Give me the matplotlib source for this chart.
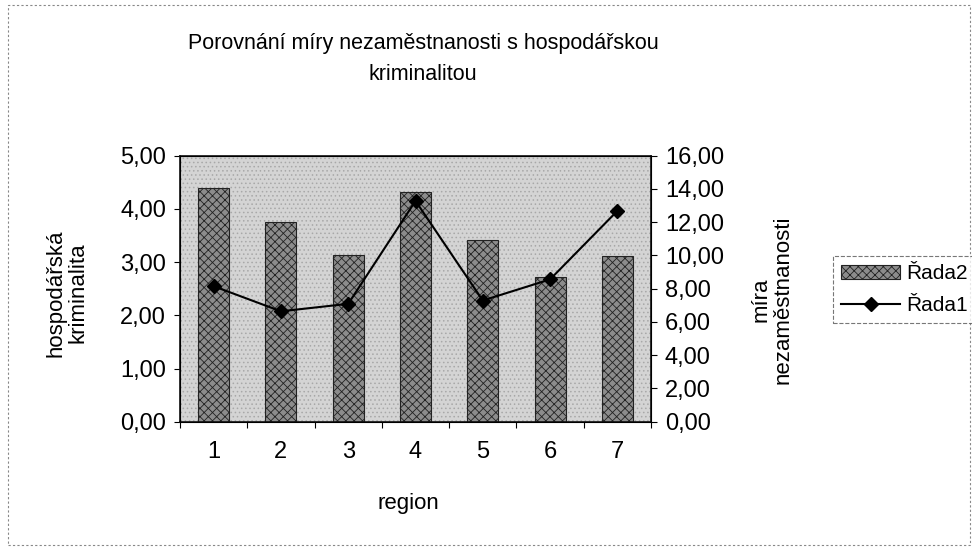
import matplotlib
matplotlib.use("Agg")
import matplotlib.pyplot as plt
from matplotlib.patches import Rectangle
import numpy as np

plt.rcParams['font.family'] = ['Liberation Sans', 'DejaVu Sans']
plt.rcParams['hatch.linewidth'] = 0.6

regions = ['1', '2', '3', '4', '5', '6', '7']
rada2 = [4.40, 3.75, 3.13, 4.32, 3.42, 2.72, 3.11]   # hospodářská kriminalita (left)
rada1 = [8.15, 6.64, 7.09, 13.28, 7.29, 8.56, 12.68]  # míra nezaměstnanosti (right)
left_ticks = [0, 1, 2, 3, 4, 5]
right_ticks = [0, 2, 4, 6, 8, 10, 12, 14, 16]

fig = plt.figure(figsize=(9.72, 5.51), dpi=100)
fig.patch.set_facecolor('white')
ax = fig.add_axes([180/972, 1-421.7/551, 471/972, 266/551])
x = np.arange(len(regions))
ax.set_facecolor('#d4d4d4')
ax.add_patch(Rectangle((0, 0), 1, 1, transform=ax.transAxes, facecolor='none',
                       edgecolor='#a8a8a8', hatch='....', linewidth=0, zorder=0))
bars = ax.bar(x, rada2, width=0.46, color='#8c8c8c', edgecolor='#222222',
              hatch='xxxx', linewidth=0.8, zorder=2, label='Řada2')
ax.set_xlim(-0.5, len(regions) - 0.5)
ax.set_ylim(0, 5)
ax.set_yticks(left_ticks)
ax.set_yticklabels([f"{v:.2f}".replace('.', ',') for v in left_ticks], fontsize=17)
ax.set_xticks(x)
ax.set_xticklabels(regions, fontsize=17)
ax.set_xticks(np.arange(-0.5, len(regions)), minor=True)
ax.tick_params(axis='x', which='major', length=0, pad=14)
ax.tick_params(axis='x', which='minor', length=4, width=0.8)
ax.tick_params(axis='y', length=4, width=0.8, pad=6)
for s in ax.spines.values():
    s.set_linewidth(1.2)
    s.set_color('#111111')

ax2 = ax.twinx()
line, = ax2.plot(x, rada1, color='black', linewidth=1.5, marker='D', markersize=7,
                 zorder=3, label='Řada1')
ax2.set_ylim(0, 16)
ax2.set_yticks(right_ticks)
ax2.set_yticklabels([f"{v:.2f}".replace('.', ',') for v in right_ticks], fontsize=17)
ax2.tick_params(axis='y', length=4, width=0.8, pad=6)

fig.text(423/972, 1-43/551, "Porovnání míry nezaměstnanosti s hospodářskou",
         ha='center', va='center', fontsize=15.5)
fig.text(423/972, 1-75/551, "kriminalitou", ha='center', va='center', fontsize=15.5)
fig.text(67/972, 1-293/551, "hospodářská\nkriminalita", rotation=90, ha='center',
         va='center', fontsize=16, linespacing=1.05)
fig.text(772/972, 1-300/551, "míra\nnezaměstnanosti", rotation=90, ha='center',
         va='center', fontsize=16, linespacing=1.05)
fig.text(408/972, 1-503/551, "region", ha='center', va='center', fontsize=16)

leg = fig.legend([bars, line], ['Řada2', 'Řada1'], loc='upper left',
                 bbox_to_anchor=(833/972, 1-256/551), fontsize=15, frameon=True,
                 fancybox=False, borderpad=0.4, handlelength=2.8, labelspacing=0.6,
                 handletextpad=0.3, borderaxespad=0)
leg.get_frame().set_edgecolor('#555555')
leg.get_frame().set_linestyle('--')
leg.get_frame().set_linewidth(0.8)

fig.patches.append(Rectangle((8/972, 6/551), 962/972, 540/551, transform=fig.transFigure,
                             fill=False, edgecolor='#888888', linestyle=(0, (2, 2)),
                             linewidth=0.8))

fig.savefig('out.png', dpi=100)
